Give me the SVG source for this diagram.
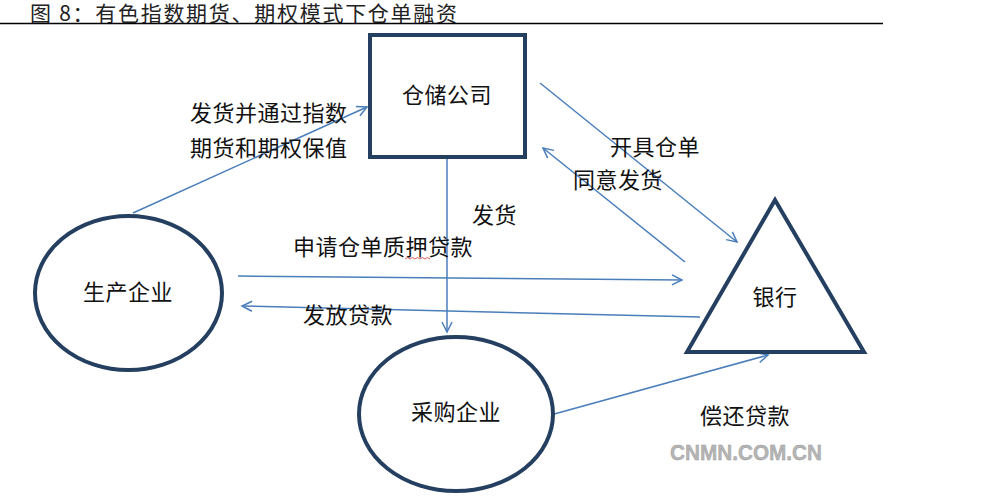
<svg xmlns="http://www.w3.org/2000/svg" width="994" height="502" viewBox="0 0 994 502">
<style>
.node{fill:#fff;stroke:#243F60;stroke-width:4}
.lbl{font-family:"Noto Sans CJK SC","Liberation Sans",sans-serif;font-size:22px;letter-spacing:0.5px;fill:#111}
.conn{stroke:#4A7EBB;stroke-width:1.5;fill:none}
.title{font-family:"Noto Sans CJK SC","Liberation Serif",serif;font-size:21px;fill:#222}
</style>
<defs>
<marker id="arr" markerUnits="userSpaceOnUse" markerWidth="16" markerHeight="16" refX="11" refY="6" orient="auto">
<path d="M1,1 L11,6 L1,11" fill="none" stroke="#4A7EBB" stroke-width="1.5"/>
</marker>
</defs>
<rect width="994" height="502" fill="#fff"/>
<g id="title">
<text class="title" x="30" y="21" textLength="427" lengthAdjust="spacing">图 8：有色指数期货、期权模式下仓单融资</text>
<line x1="0" y1="23.5" x2="883" y2="23.5" stroke="#000" stroke-width="1.5"/>
</g>
<g id="connectors">
<line class="conn" x1="133" y1="213" x2="367" y2="107" marker-end="url(#arr)"/>
<line class="conn" x1="447" y1="159" x2="447" y2="332" marker-end="url(#arr)"/>
<line class="conn" x1="540" y1="83" x2="737" y2="242" marker-end="url(#arr)"/>
<line class="conn" x1="685" y1="262" x2="543" y2="148" marker-end="url(#arr)"/>
<line class="conn" x1="238" y1="276" x2="682" y2="280" marker-end="url(#arr)"/>
<line class="conn" x1="700" y1="317" x2="242" y2="306" marker-end="url(#arr)"/>
<line class="conn" x1="547" y1="416" x2="768" y2="355" marker-end="url(#arr)"/>
</g>
<g id="labels">
<text class="lbl" x="190" y="121">发货并通过指数</text>
<text class="lbl" x="190" y="156">期货和期权保值</text>
<text class="lbl" x="472" y="223">发货</text>
<text class="lbl" x="610" y="155">开具仓单</text>
<text class="lbl" x="573" y="188">同意发货</text>
<text class="lbl" x="293" y="255">申请仓单质押贷款</text>
<path d="M405,259 l2.5,-1.5 l2.5,1.5 l2.5,-1.5 l2.5,1.5 l2.5,-1.5 l2.5,1.5 l2.5,-1.5 l2.5,1.5 l2.5,-1.5 l2.5,1.5" fill="none" stroke="#d33" stroke-width="0.8"/>
<text class="lbl" x="303" y="323">发放贷款</text>
<text class="lbl" x="700" y="424">偿还贷款</text>
<text x="670" y="460" font-family="Liberation Sans, Arial, sans-serif" font-weight="bold" font-size="22" fill="#b5b5b5" stroke="#999" stroke-width="0.4" textLength="152" lengthAdjust="spacingAndGlyphs">CNMN.COM.CN</text>
</g>
<g id="warehouse">
<rect class="node" x="370" y="35" width="155" height="122"/>
<text class="lbl" x="447" y="103" text-anchor="middle">仓储公司</text>
</g>
<g id="producer">
<ellipse class="node" cx="128.5" cy="293" rx="93.5" ry="77"/>
<text class="lbl" x="128" y="300" text-anchor="middle">生产企业</text>
</g>
<g id="buyer">
<ellipse class="node" cx="456" cy="414" rx="97" ry="77"/>
<text class="lbl" x="456" y="420" text-anchor="middle">采购企业</text>
</g>
<g id="bank">
<polygon class="node" points="775,200 864,352 687,352" stroke-linejoin="miter"/>
<text class="lbl" x="775" y="305" text-anchor="middle">银行</text>
</g>
</svg>
